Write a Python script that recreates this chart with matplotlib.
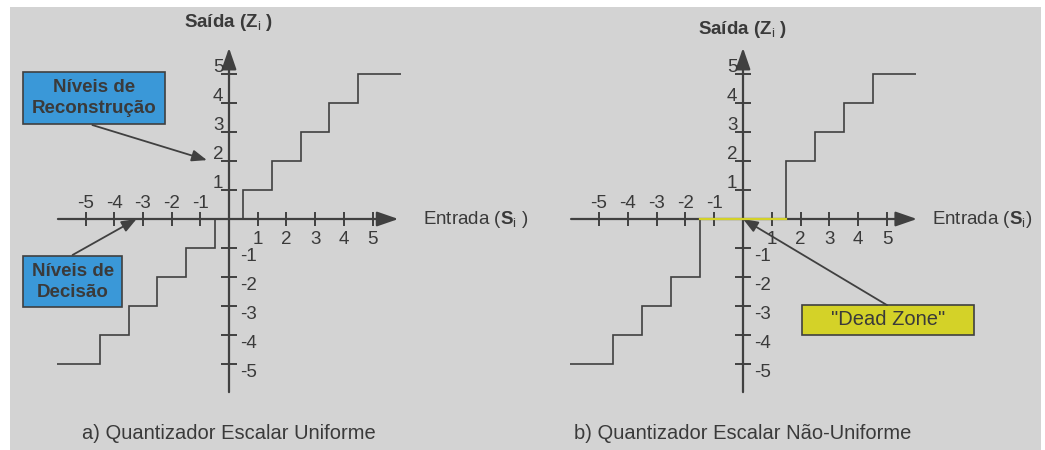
import numpy as np
import matplotlib.pyplot as plt
from matplotlib.patches import Rectangle

plt.rcParams['font.family'] = ['Liberation Sans', 'DejaVu Sans']
plt.rcParams['mathtext.fontset'] = 'custom'
plt.rcParams['mathtext.rm'] = 'Liberation Sans'
plt.rcParams['mathtext.bf'] = 'Liberation Sans:bold'

# staircase data (input edges, output levels)
uni_edges = [-6, -4.5, -3.5, -2.5, -1.5, -0.5, 0.5, 1.5, 2.5, 3.5, 4.5, 6]
uni_levels = [-5, -4, -3, -2, -1, 0, 1, 2, 3, 4, 5]
nonuni_edges = [-6, -4.5, -3.5, -2.5, -1.5, 1.5, 2.5, 3.5, 4.5, 6]
nonuni_levels = [-5, -4, -3, -2, 0, 2, 3, 4, 5]
dead_zone = [-1.5, 1.5]

pos_ticks = [1, 2, 3, 4, 5]
neg_ticks = [-5, -4, -3, -2, -1]

captions = ["a) Quantizador Escalar Uniforme", "b) Quantizador Escalar Não-Uniforme"]

line_c = '#404040'
text_c = '#3a3a3a'
bg = '#d3d3d3'
blue = '#3a98d8'
yellow = '#d4d228'

W, H = 1045, 450
fig = plt.figure(figsize=(W / 100, H / 100), dpi=100)
fig.patches.append(Rectangle((10 / W, 0), 1031 / W, 443 / H, transform=fig.transFigure,
                             facecolor=bg, edgecolor='none', zorder=-10))


def make_axes(px0, px1, ox, oy, sx, sy):
    ax = fig.add_axes([px0 / W, 0, (px1 - px0) / W, 1])
    ax.set_xlim((px0 - ox) / sx, (px1 - ox) / sx)
    ax.set_ylim((oy - H) / sy, oy / sy)
    ax.axis('off')
    ax.patch.set_alpha(0)
    return ax


def draw_frame(ax, xmin, xmax):
    kw = dict(arrowstyle='-|>,head_length=1.3,head_width=0.45', mutation_scale=10,
              color=line_c, lw=1.6, shrinkA=0, shrinkB=0)
    ax.annotate('', xy=(xmax, 0), xytext=(xmin, 0), arrowprops=kw)
    ax.annotate('', xy=(0, 5.9), xytext=(0, -5.97), arrowprops=kw)
    ticks = neg_ticks + pos_ticks
    ax.plot(ticks, np.zeros(len(ticks)), ls='none', marker='|', ms=9.5, mew=1.4, color=line_c)
    ax.plot(np.zeros(len(ticks)), ticks, ls='none', marker='_', ms=11, mew=1.4, color=line_c)
    fs = 13.5
    for t in pos_ticks:
        ax.annotate(str(t), (t, 0), xytext=(0, -14.5), textcoords='offset points',
                    ha='center', va='center', fontsize=fs, color=text_c)
        ax.annotate(str(t), (0, t), xytext=(-4, 5), textcoords='offset points',
                    ha='right', va='center', fontsize=fs, color=text_c)
    for t in neg_ticks:
        ax.annotate(str(t), (t, 0), xytext=(0, 11.5), textcoords='offset points',
                    ha='center', va='center', fontsize=fs, color=text_c)
        ax.annotate(str(t), (0, t), xytext=(8, -6), textcoords='offset points',
                    ha='left', va='center', fontsize=fs, color=text_c)


# left panel: uniform quantizer
axL = make_axes(0, 522, 229, 219, 28.7, 29)
draw_frame(axL, -5.96, 5.9)
axL.stairs(uni_levels, uni_edges, baseline=None, color=line_c, lw=1.2)
axL.text(0, 6.76, r'Saída (Z$_\mathrm{i}$ )', ha='center', va='center', fontsize=13.5,
         fontweight='bold', color=text_c)
axL.text(6.76, 0, r'Entrada ($\mathbf{S}_\mathrm{i}$ )', ha='left', va='center',
         fontsize=13.5, color=text_c)
axL.text(0, -7.38, captions[0], ha='center', va='center', fontsize=14.5, color=text_c)

axL.add_patch(Rectangle((-7.18, 3.28), 4.95, 1.79, facecolor=blue, edgecolor=line_c, lw=1.2))
axL.text(-4.7, 4.17, 'Níveis de\nReconstrução', ha='center', va='center', fontsize=13.5,
         fontweight='bold', color=text_c, linespacing=1.3)
axL.add_patch(Rectangle((-7.18, -3.03), 3.45, 1.75, facecolor=blue, edgecolor=line_c, lw=1.2))
axL.text(-5.45, -2.16, 'Níveis de\nDecisão', ha='center', va='center', fontsize=13.5,
         fontweight='bold', color=text_c, linespacing=1.3)

akw = dict(arrowstyle='-|>,head_length=0.9,head_width=0.35', mutation_scale=10,
           color=line_c, lw=1.3, shrinkA=0, shrinkB=0)
axL.annotate('', xy=(-0.77, 2.03), xytext=(-4.76, 3.24), arrowprops=akw)
axL.annotate('', xy=(-3.22, 0.0), xytext=(-5.45, -1.24), arrowprops=akw)

# right panel: non-uniform quantizer with dead zone
axR = make_axes(522, W, 743, 219, 28.8, 29)
draw_frame(axR, -5.97, 6.04)
axR.stairs(nonuni_levels, nonuni_edges, baseline=None, color=line_c, lw=1.2)
axR.plot(dead_zone, [0, 0], color=yellow, lw=1.6, zorder=5)
axR.text(0, 6.52, r'Saída (Z$_\mathrm{i}$ )', ha='center', va='center', fontsize=13.5,
         fontweight='bold', color=text_c)
axR.text(6.56, 0, r'Entrada ($\mathbf{S}_\mathrm{i}$)', ha='left', va='center',
         fontsize=13.5, color=text_c)
axR.text(0, -7.38, captions[1], ha='center', va='center', fontsize=14.5, color=text_c)

axR.add_patch(Rectangle((2.05, -4.0), 5.97, 1.03, facecolor=yellow, edgecolor=line_c, lw=1.2))
axR.text(5.03, -3.48, '"Dead Zone"', ha='center', va='center', fontsize=14.5, color=text_c)
axR.annotate('', xy=(0, 0), xytext=(5.0, -2.97), arrowprops=akw)

fig.savefig('out.png', dpi=100)
